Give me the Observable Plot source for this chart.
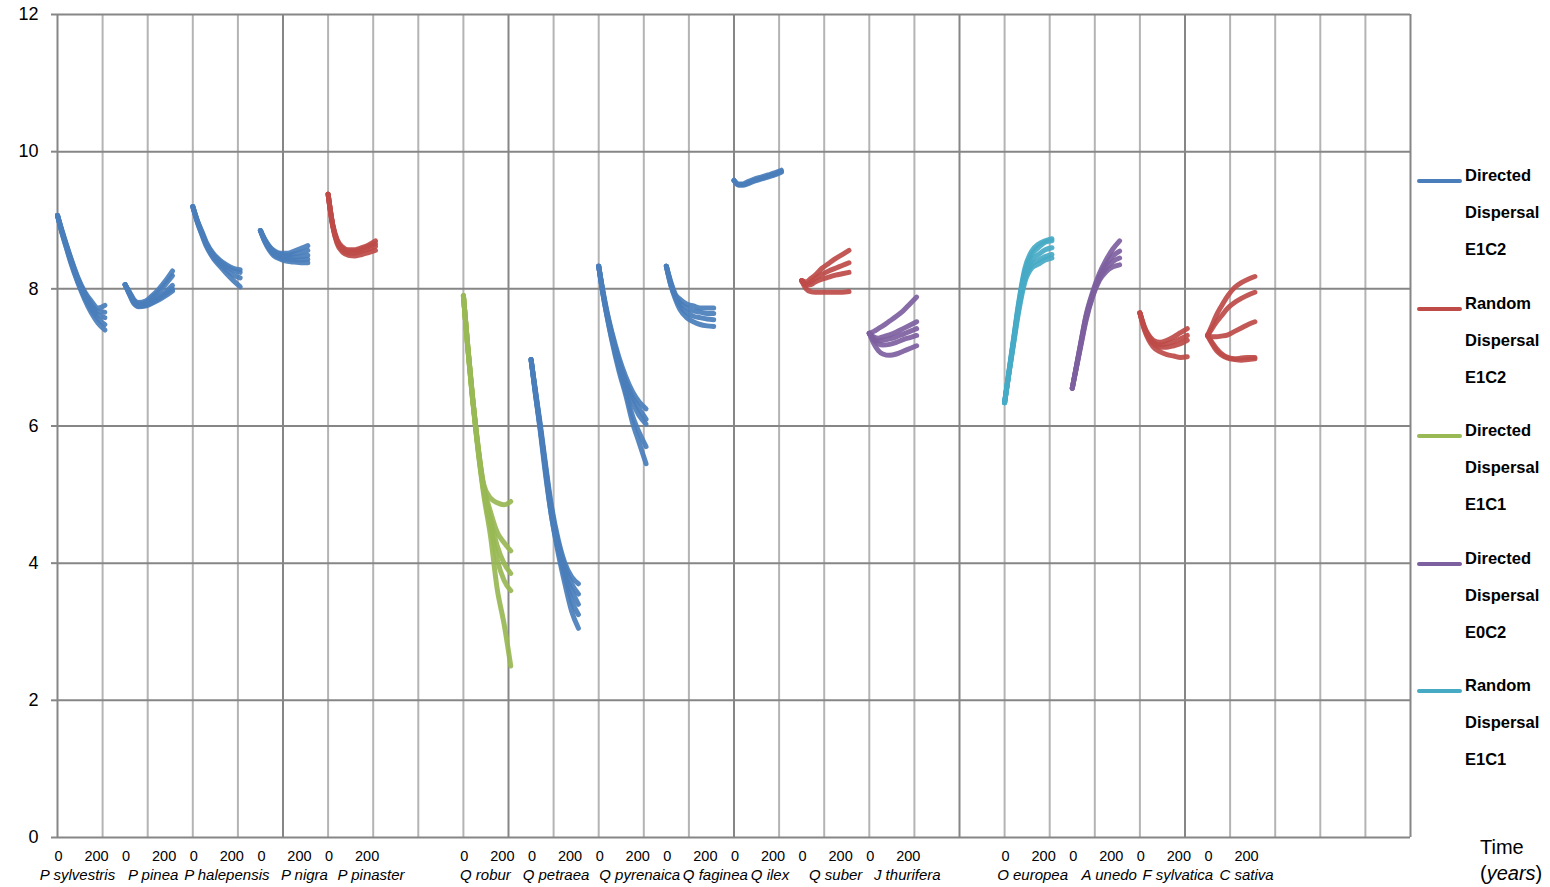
<!DOCTYPE html>
<html>
<head>
<meta charset="utf-8">
<script src="https://cdn.jsdelivr.net/npm/d3@7"></script>
<script src="https://cdn.jsdelivr.net/npm/@observablehq/plot@0.6"></script>
<style>
  html, body { margin: 0; padding: 0; background: #fff; }
  #wrap { position: relative; width: 1550px; height: 887px; font-family: "Liberation Sans", Arial, sans-serif; }
  #legend { position: absolute; left: 1417px; top: 0; }
  .li { position: absolute; left: 0; width: 140px; }
  .li .sw { position: absolute; left: 0; width: 45px; height: 4px; border-radius: 2px; }
  .li .tx { position: absolute; left: 48px; font-weight: bold; font-size: 16.5px; line-height: 37px; color: #000; white-space: nowrap; }
  #timelab { position: absolute; left: 1480px; top: 834px; font-size: 20px; line-height: 26px; color: #000; }
</style>
</head>
<body>
<div id="wrap">
  <div id="chart"></div>
  <div id="legend"></div>
  <div id="timelab">Time<br>(<i>years</i>)</div>
</div>
<script>
// ---------- data ----------
const times = [0, 20, 40, 60, 90, 120, 150, 180, 210];
const yTicks = [0, 2, 4, 6, 8, 10, 12];
const xTickLabels = ["0", "200"];

const seriesNames = [
  "Directed Dispersal E1C2",
  "Random Dispersal E1C2",
  "Directed Dispersal E1C1",
  "Directed Dispersal E0C2",
  "Random Dispersal E1C1"
];
const seriesColors = ["#4a7ebb", "#be4b48", "#98b954", "#7d60a0", "#46aac5"];

const speciesNames = ["P sylvestris", "P pinea", "P halepensis", "P nigra", "P pinaster",
  "Q robur", "Q petraea", "Q pyrenaica", "Q faginea", "Q ilex", "Q suber", "J thurifera",
  "O europea", "A unedo", "F sylvatica", "C sativa"];
const speciesSlots = [0, 1, 2, 3, 4, 6, 7, 8, 9, 10, 11, 12, 14, 15, 16, 17];
const speciesSeries = [0, 0, 0, 0, 1, 2, 0, 0, 0, 0, 1, 3, 4, 3, 1, 1];

const pSylvestris = [
  [9.07, 8.85, 8.64, 8.44, 8.17, 7.96, 7.82, 7.72, 7.76],
  [9.07, 8.84, 8.63, 8.43, 8.15, 7.94, 7.78, 7.67, 7.66],
  [9.07, 8.83, 8.62, 8.41, 8.13, 7.91, 7.74, 7.62, 7.58],
  [9.07, 8.82, 8.60, 8.39, 8.11, 7.88, 7.70, 7.56, 7.48],
  [9.07, 8.81, 8.59, 8.37, 8.09, 7.85, 7.65, 7.50, 7.40]
];
const pPinea = [
  [8.06, 7.95, 7.84, 7.80, 7.82, 7.90, 8.00, 8.12, 8.26],
  [8.06, 7.94, 7.82, 7.78, 7.80, 7.87, 7.96, 8.07, 8.19],
  [8.06, 7.93, 7.80, 7.76, 7.77, 7.82, 7.89, 7.96, 8.05],
  [8.06, 7.92, 7.79, 7.75, 7.76, 7.80, 7.86, 7.93, 8.00],
  [8.06, 7.91, 7.78, 7.74, 7.75, 7.79, 7.84, 7.90, 7.97]
];
const pHalepensis = [
  [9.20, 9.00, 8.84, 8.68, 8.52, 8.42, 8.35, 8.30, 8.28],
  [9.20, 8.99, 8.82, 8.66, 8.50, 8.40, 8.32, 8.27, 8.24],
  [9.20, 8.98, 8.80, 8.64, 8.47, 8.36, 8.27, 8.20, 8.16],
  [9.20, 8.97, 8.79, 8.62, 8.45, 8.33, 8.22, 8.12, 8.03]
];
const pNigra = [
  [8.85, 8.72, 8.62, 8.56, 8.52, 8.52, 8.55, 8.59, 8.63],
  [8.85, 8.71, 8.61, 8.54, 8.50, 8.49, 8.51, 8.53, 8.56],
  [8.85, 8.70, 8.59, 8.52, 8.48, 8.46, 8.46, 8.47, 8.49],
  [8.85, 8.69, 8.58, 8.50, 8.45, 8.43, 8.42, 8.42, 8.43],
  [8.85, 8.68, 8.56, 8.48, 8.43, 8.40, 8.39, 8.38, 8.38]
];
const pPinaster = [
  [9.38, 8.95, 8.72, 8.62, 8.57, 8.57, 8.60, 8.64, 8.70],
  [9.38, 8.94, 8.70, 8.60, 8.55, 8.55, 8.58, 8.62, 8.66],
  [9.38, 8.93, 8.68, 8.58, 8.52, 8.52, 8.55, 8.58, 8.62],
  [9.38, 8.92, 8.66, 8.55, 8.49, 8.48, 8.50, 8.53, 8.56]
];
const qRobur = [
  [7.90, 7.15, 6.45, 5.85, 5.15, 4.95, 4.88, 4.85, 4.90],
  [7.90, 7.14, 6.44, 5.83, 5.12, 4.75, 4.45, 4.30, 4.18],
  [7.90, 7.13, 6.43, 5.82, 5.08, 4.65, 4.25, 4.00, 3.85],
  [7.90, 7.12, 6.42, 5.80, 5.05, 4.55, 4.05, 3.75, 3.60],
  [7.90, 7.11, 6.40, 5.78, 5.00, 4.40, 3.62, 3.12, 2.50]
];
const qPetraea = [
  [6.97, 6.50, 6.05, 5.55, 4.85, 4.35, 4.00, 3.80, 3.70],
  [6.97, 6.50, 6.00, 5.50, 4.80, 4.30, 3.95, 3.70, 3.55],
  [6.97, 6.48, 6.00, 5.50, 4.75, 4.25, 3.85, 3.60, 3.40],
  [6.97, 6.45, 5.98, 5.45, 4.70, 4.20, 3.80, 3.45, 3.25],
  [6.97, 6.45, 5.95, 5.40, 4.70, 4.15, 3.70, 3.30, 3.05]
];
const qPyrenaica = [
  [8.33, 7.95, 7.62, 7.35, 7.00, 6.72, 6.50, 6.35, 6.25],
  [8.33, 7.93, 7.60, 7.32, 6.95, 6.65, 6.42, 6.25, 6.10],
  [8.33, 7.92, 7.58, 7.30, 6.90, 6.60, 6.35, 6.15, 6.03],
  [8.33, 7.90, 7.55, 7.25, 6.85, 6.50, 6.15, 5.90, 5.70],
  [8.33, 7.90, 7.55, 7.22, 6.80, 6.45, 6.05, 5.75, 5.45]
];
const qFaginea = [
  [8.33, 8.10, 7.92, 7.85, 7.78, 7.75, 7.72, 7.72, 7.72],
  [8.33, 8.08, 7.90, 7.80, 7.72, 7.68, 7.66, 7.64, 7.64],
  [8.33, 8.05, 7.88, 7.75, 7.65, 7.60, 7.58, 7.56, 7.55],
  [8.33, 8.05, 7.85, 7.70, 7.58, 7.52, 7.48, 7.46, 7.45]
];
const qIlex = [
  [9.58, 9.53, 9.53, 9.56, 9.60, 9.63, 9.66, 9.69, 9.73],
  [9.58, 9.52, 9.52, 9.54, 9.58, 9.61, 9.64, 9.67, 9.71],
  [9.58, 9.51, 9.51, 9.53, 9.57, 9.60, 9.63, 9.66, 9.70]
];
const qSuber = [
  [8.12, 8.10, 8.15, 8.20, 8.30, 8.37, 8.44, 8.50, 8.56],
  [8.12, 8.07, 8.10, 8.15, 8.21, 8.26, 8.30, 8.34, 8.38],
  [8.12, 8.05, 8.06, 8.10, 8.14, 8.17, 8.20, 8.22, 8.24],
  [8.12, 8.00, 7.96, 7.95, 7.95, 7.95, 7.95, 7.95, 7.96]
];
const jThurifera = [
  [7.35, 7.38, 7.42, 7.46, 7.53, 7.60, 7.68, 7.78, 7.88],
  [7.35, 7.30, 7.28, 7.30, 7.33, 7.37, 7.42, 7.47, 7.52],
  [7.35, 7.27, 7.24, 7.25, 7.27, 7.30, 7.34, 7.38, 7.42],
  [7.35, 7.25, 7.20, 7.18, 7.19, 7.22, 7.26, 7.29, 7.32],
  [7.35, 7.20, 7.10, 7.05, 7.03, 7.05, 7.09, 7.13, 7.17]
];
const oEuropea = [
  [6.34, 6.82, 7.28, 7.75, 8.30, 8.55, 8.65, 8.70, 8.73],
  [6.34, 6.80, 7.26, 7.72, 8.25, 8.50, 8.60, 8.68, 8.70],
  [6.34, 6.80, 7.25, 7.70, 8.20, 8.42, 8.50, 8.57, 8.60],
  [6.34, 6.78, 7.22, 7.66, 8.15, 8.35, 8.42, 8.47, 8.50],
  [6.34, 6.78, 7.20, 7.62, 8.10, 8.30, 8.36, 8.42, 8.45]
];
const aUnedo = [
  [6.55, 6.90, 7.25, 7.60, 7.95, 8.22, 8.42, 8.58, 8.70],
  [6.55, 6.90, 7.25, 7.58, 7.92, 8.18, 8.36, 8.48, 8.55],
  [6.55, 6.88, 7.22, 7.55, 7.90, 8.15, 8.30, 8.40, 8.45],
  [6.55, 6.88, 7.20, 7.52, 7.88, 8.12, 8.25, 8.32, 8.35]
];
const fSylvatica = [
  [7.65, 7.45, 7.32, 7.25, 7.22, 7.25, 7.30, 7.36, 7.42],
  [7.65, 7.43, 7.30, 7.22, 7.18, 7.20, 7.23, 7.27, 7.32],
  [7.65, 7.42, 7.28, 7.20, 7.15, 7.15, 7.17, 7.20, 7.25],
  [7.65, 7.40, 7.25, 7.15, 7.08, 7.04, 7.02, 7.00, 7.01]
];
const cSativa = [
  [7.32, 7.47, 7.62, 7.74, 7.90, 8.02, 8.09, 8.14, 8.18],
  [7.32, 7.42, 7.52, 7.60, 7.72, 7.80, 7.86, 7.91, 7.95],
  [7.32, 7.30, 7.30, 7.31, 7.33, 7.38, 7.43, 7.48, 7.52],
  [7.32, 7.20, 7.10, 7.04, 6.99, 6.97, 6.96, 6.97, 6.98],
  [7.32, 7.22, 7.13, 7.06, 7.00, 6.98, 6.99, 7.00, 7.00]
];

const speciesRuns = [pSylvestris, pPinea, pHalepensis, pNigra, pPinaster,
  qRobur, qPetraea, qPyrenaica, qFaginea, qIlex, qSuber, jThurifera,
  oEuropea, aUnedo, fSylvatica, cSativa];

// ---------- layout (label placement, in pixels from each species' start) ----------
const nameShiftPx = [20, 28, 34, 44, 43, 22, 25, 41, 49, 36, 34, 38, 28, 37, 38, 39];

// ---------- build table ----------
const SLOT = 300;            // years per species slot on the shared axis
const rows = [];
speciesRuns.forEach((runs, si) => {
  runs.forEach((vals, ri) => {
    vals.forEach((v, ti) => {
      rows.push({
        x: speciesSlots[si] * SLOT + times[ti],
        y: v,
        key: speciesNames[si] + "#" + ri,
        series: seriesNames[speciesSeries[si]]
      });
    });
  });
});

const W = 1550, ML = 57, MR = 140;
const yearsPerPx = (20 * SLOT) / (W - ML - MR);
const tickRows = [];
speciesSlots.forEach(s => {
  tickRows.push({x: s * SLOT + 1 * yearsPerPx, label: xTickLabels[0]});
  tickRows.push({x: s * SLOT + 39 * yearsPerPx, label: xTickLabels[1]});
});
const nameRows = speciesNames.map((n, i) => ({x: speciesSlots[i] * SLOT + nameShiftPx[i] * yearsPerPx, label: n}));

const gridX = d3.range(0, 20 * SLOT + 1, 200);
const dark = "#868686", light = "#b4b4b4";

const chart = Plot.plot({
  width: W,
  height: 887,
  marginLeft: ML,
  marginRight: MR,
  marginTop: 14,
  marginBottom: 50,
  style: {fontFamily: "'Liberation Sans', Arial, sans-serif", background: "#fff"},
  x: {domain: [0, 20 * SLOT], axis: null},
  y: {domain: [0, 12], axis: null},
  color: {domain: seriesNames, range: seriesColors},
  marks: [
    Plot.ruleX(gridX, {x: d => d, stroke: d => d % 1000 === 0 ? dark : light, strokeWidth: 2}),
    Plot.gridY(yTicks, {stroke: dark, strokeOpacity: 1, strokeWidth: 2}),
    Plot.axisY(yTicks, {label: null, tickSize: 6, tickPadding: 13, stroke: dark, strokeWidth: 2, fill: "#000", fontSize: 18, tickFormat: d => String(d)}),
    Plot.line(rows, {x: "x", y: "y", z: "key", stroke: "series", strokeWidth: 5, strokeLinecap: "round", strokeLinejoin: "round", curve: "monotone-x", strokeOpacity: 0.92}),
    Plot.text(tickRows, {x: "x", text: "label", frameAnchor: "bottom", dy: 23, fontSize: 14.5, fill: "#000"}),
    Plot.text(nameRows, {x: "x", text: "label", frameAnchor: "bottom", dy: 42, fontSize: 15, fontStyle: "italic", fill: "#000"})
  ]
});
document.getElementById("chart").appendChild(chart);

// ---------- legend ----------
const legend = document.getElementById("legend");
seriesNames.forEach((name, i) => {
  const item = document.createElement("div");
  item.className = "li";
  item.style.top = (157 + i * 127.5) + "px";
  const sw = document.createElement("div");
  sw.className = "sw";
  sw.style.background = seriesColors[i];
  sw.style.top = "22px";
  item.appendChild(sw);
  const tx = document.createElement("div");
  tx.className = "tx";
  tx.innerHTML = name.split(" ").join("<br>");
  item.appendChild(tx);
  legend.appendChild(item);
});
</script>
</body>
</html>
